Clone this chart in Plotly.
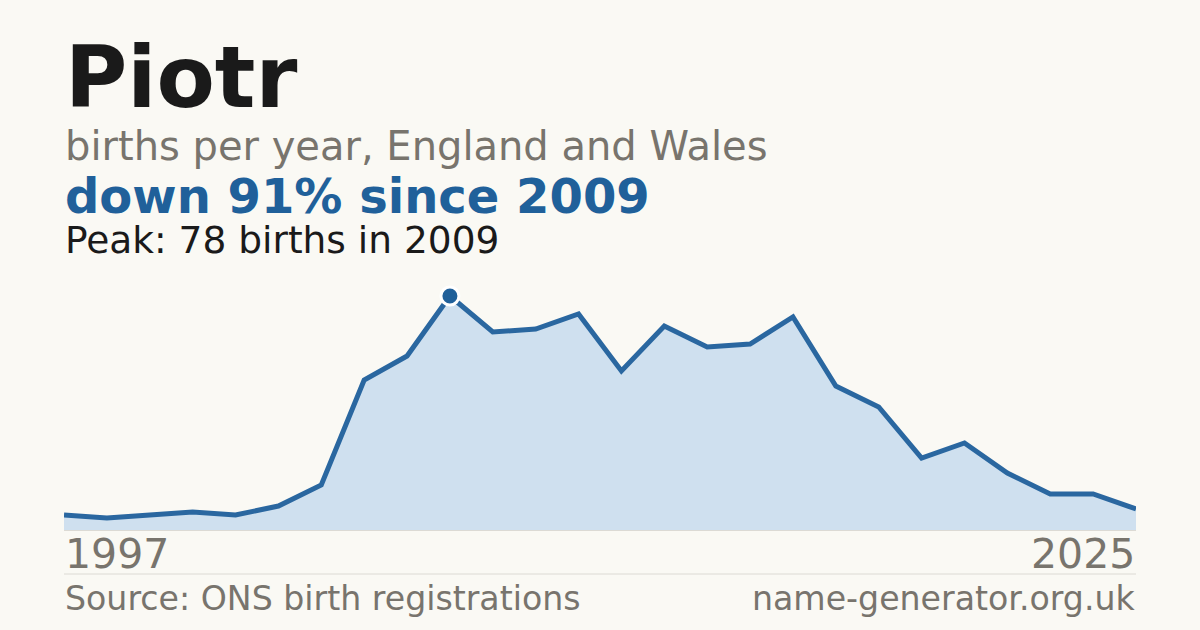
import plotly.graph_objects as go

years = [1997, 1998, 2000, 2002, 2004, 2005, 2006, 2007, 2008, 2009,
         2010, 2011, 2012, 2013, 2014, 2015, 2016, 2017, 2018, 2019,
         2020, 2021, 2022, 2023, 2024, 2025]
births = [5, 4, 5, 6, 5, 8, 15, 50, 58, 78,
          66, 67, 72, 53, 68, 61, 62, 71, 48, 41,
          24, 29, 19, 12, 12, 7]
peak_year = 2009
peak_value = 78
name = "Piotr"
subtitle = "births per year, England and Wales"
headline = "down 91% since 2009"
peak_text = "Peak: 78 births in 2009"
source_text = "Source: ONS birth registrations"
site_text = "name-generator.org.uk"

W, H = 1200, 630
L, R = 64, 1136
TOP, BOT = 290, 530
BG = "#faf9f4"
BLUE = "#20609a"
LINE = "#2a67a0"
FONT = "DejaVu Sans"

xcat = [str(y) for y in years]

fig = go.Figure()
fig.add_trace(go.Scatter(
    x=xcat, y=births, mode="lines",
    line=dict(color=LINE, width=5, shape="linear"),
    fill="tozeroy", fillcolor="#cfe0ef",
    hoverinfo="skip", cliponaxis=False,
))
pi = years.index(peak_year)
fig.add_trace(go.Scatter(
    x=[xcat[pi]], y=[births[pi]], mode="markers",
    marker=dict(color=BLUE, size=18, line=dict(color="white", width=3)),
    hoverinfo="skip", cliponaxis=False,
))

def py(p):
    return (BOT - p) / (BOT - TOP)

def ann(text, x, xanchor, ycen, size, color, bold=False):
    fig.add_annotation(
        text=f"<b>{text}</b>" if bold else text,
        x=x, xref="paper", xanchor=xanchor,
        y=py(ycen), yref="paper", yanchor="middle",
        showarrow=False, font=dict(family=FONT, size=size, color=color),
        borderpad=0,
    )

ann(name, 0, "left", 77.5, 85, "#1a1a1a", bold=True)
ann(subtitle, 0, "left", 145.5, 40, "#78746d")
ann(headline, 0, "left", 195.5, 48, "#20609a", bold=True)
ann(peak_text, 0, "left", 239.5, 37.5, "#1a1a1a")
ann(str(years[0]), 0, "left", 554, 41, "#78746d")
ann(str(years[-1]), 1, "right", 554, 41, "#78746d")
ann(source_text, 0, "left", 598, 33.2, "#78746d")
ann(site_text, 1, "right", 598, 33.2, "#78746d")

fig.add_shape(type="line", xref="paper", yref="paper",
              x0=0, x1=1, y0=py(574), y1=py(574),
              line=dict(color="#dcdad4", width=1))

fig.update_layout(
    width=W, height=H,
    margin=dict(l=L, r=W - R, t=TOP, b=H - BOT, pad=0),
    paper_bgcolor=BG, plot_bgcolor=BG,
    showlegend=False,
    xaxis=dict(type="category", range=[0, len(years) - 1], showgrid=False,
               zeroline=False, showticklabels=False, showline=True,
               linecolor="#dcdad4", linewidth=1, fixedrange=True),
    yaxis=dict(range=[0, 80], showgrid=False, zeroline=False,
               showticklabels=False, showline=False, fixedrange=True),
)

fig.write_html(
    "out.html",
    config={"displayModeBar": False},
    post_script="document.body.style.margin='0';document.body.style.background='#faf9f4';",
)
